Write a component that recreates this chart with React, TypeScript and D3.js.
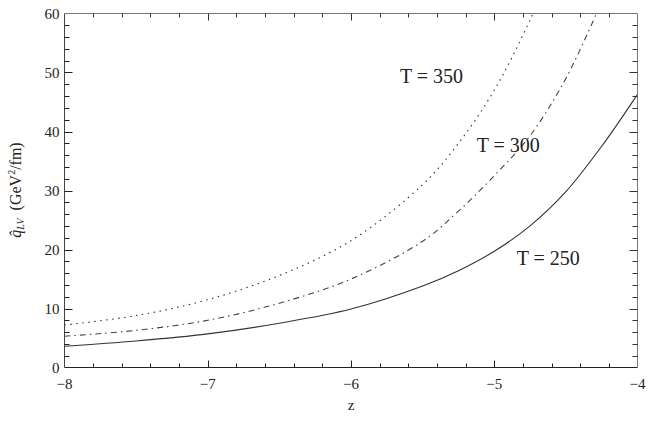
import React, { useEffect, useRef } from "react";
import * as d3 from "d3";

// z grid used for every curve
const zValues = [-8, -7.5, -7, -6.5, -6, -5.5, -5.25, -5, -4.75, -4.5, -4.25, -4];

// q_LV for the three temperatures (NaN = beyond the frame)
const qT250 = [3.6, 4.5, 5.7, 7.5, 9.9, 13.8, 16.4, 19.7, 24.0, 29.8, 37.5, 46.3];
const qT300 = [5.3, 6.3, 8.0, 10.9, 15.0, 21.4, 26.5, 32.5, 39.3, 49.0, 62.0, NaN];
const qT350 = [7.2, 8.8, 11.5, 15.6, 21.5, 31.0, 38.0, 47.0, 58.9, 73.0, NaN, NaN];

const curveLabels = ["T = 250", "T = 300", "T = 350"];
const labelPos = [
  { z: -4.843, q: 17.4 },
  { z: -5.123, q: 36.6 },
  { z: -5.658, q: 48.2 },
];

const xTicks = [-8, -7, -6, -5, -4];
const yTicks = [0, 10, 20, 30, 40, 50, 60];

const App = () => {
  const svgRef = useRef<SVGSVGElement | null>(null);

  useEffect(() => {
    const width = 654;
    const height = 424;
    const left = 64.5;
    const right = 637.5;
    const top = 13.5;
    const bottom = 367.5;
    const font = "'Liberation Serif', 'Times New Roman', serif";

    const svg = d3.select(svgRef.current);
    svg.selectAll("*").remove();
    svg.attr("width", width).attr("height", height);

    const x = d3.scaleLinear().domain([-8, -4]).range([left, right]);
    const y = d3.scaleLinear().domain([0, 60]).range([bottom, top]);

    svg
      .append("defs")
      .append("clipPath")
      .attr("id", "plot-clip")
      .append("rect")
      .attr("x", left)
      .attr("y", top)
      .attr("width", right - left)
      .attr("height", bottom - top);

    // --- curves ---
    const series = [
      { values: qT250, dash: null, color: "#333" },
      { values: qT300, dash: "6,4,1.5,4", color: "#444" },
      { values: qT350, dash: "1.5,4.5", color: "#333" },
    ];

    const line = d3
      .line<[number, number]>()
      .defined((d) => !isNaN(d[1]))
      .x((d) => x(d[0]))
      .y((d) => y(d[1]))
      .curve(d3.curveCatmullRom.alpha(0.5));

    const curves = svg.append("g").attr("clip-path", "url(#plot-clip)");
    series.forEach((s) => {
      const pts = zValues.map((z, i) => [z, s.values[i]] as [number, number]);
      curves
        .append("path")
        .attr("d", line(pts))
        .attr("fill", "none")
        .attr("stroke", s.color)
        .attr("stroke-width", 1.1)
        .attr("stroke-dasharray", s.dash);
    });

    // --- frame ---
    const frame = svg.append("g");
    frame.append("line").attr("x1", left).attr("x2", right).attr("y1", bottom).attr("y2", bottom).attr("stroke", "#222");
    frame.append("line").attr("x1", left).attr("x2", left).attr("y1", top).attr("y2", bottom).attr("stroke", "#444");
    frame.append("line").attr("x1", left).attr("x2", right).attr("y1", top).attr("y2", top).attr("stroke", "#777");
    frame.append("line").attr("x1", right).attr("x2", right).attr("y1", top).attr("y2", bottom).attr("stroke", "#777");

    // --- ticks (inward, mirrored) ---
    const xMinor = d3.range(-8, -3.99, 0.2);
    xMinor.forEach((v) => {
      const major = xTicks.some((t) => Math.abs(t - v) < 1e-6);
      if (Math.abs(v + 8) < 1e-6 || Math.abs(v + 4) < 1e-6) return;
      const len = major ? 7 : 4;
      const px = Math.round(x(v)) + 0.5;
      frame.append("line").attr("x1", px).attr("x2", px).attr("y1", bottom).attr("y2", bottom - len).attr("stroke", "#222");
      frame.append("line").attr("x1", px).attr("x2", px).attr("y1", top).attr("y2", top + len).attr("stroke", "#333");
    });
    const yMinor = d3.range(0, 60.01, 2);
    yMinor.forEach((v) => {
      const major = yTicks.includes(Math.round(v)) && Math.round(v) % 10 === 0;
      if (v === 0 || v === 60) return;
      const len = major ? 8 : 5;
      const py = Math.round(y(v)) + 0.5;
      frame.append("line").attr("x1", left).attr("x2", left + len).attr("y1", py).attr("y2", py).attr("stroke", "#222");
      frame.append("line").attr("x1", right).attr("x2", right - len).attr("y1", py).attr("y2", py).attr("stroke", "#333");
    });

    // --- tick labels ---
    svg
      .append("g")
      .selectAll("text")
      .data(xTicks)
      .join("text")
      .attr("x", (d) => x(d))
      .attr("y", bottom + 21)
      .attr("text-anchor", "middle")
      .style("font-family", font)
      .style("font-size", "15px")
      .style("fill", "#222")
      .text((d) => `\u2212${Math.abs(d)}`);

    svg
      .append("g")
      .selectAll("text")
      .data(yTicks)
      .join("text")
      .attr("x", left - 5)
      .attr("y", (d) => y(d) + 5)
      .attr("text-anchor", "end")
      .style("font-family", font)
      .style("font-size", "15px")
      .style("fill", "#222")
      .text((d) => d);

    // --- axis titles ---
    svg
      .append("text")
      .attr("x", (left + right) / 2)
      .attr("y", 410)
      .attr("text-anchor", "middle")
      .style("font-family", font)
      .style("font-size", "15px")
      .style("fill", "#222")
      .text("z");

    const yTitle = svg
      .append("text")
      .attr("transform", `translate(21, 190) rotate(-90)`)
      .attr("text-anchor", "middle")
      .style("font-family", font)
      .style("font-size", "16px")
      .style("fill", "#222");
    yTitle.append("tspan").style("font-style", "italic").text("q\u0302");
    yTitle.append("tspan").style("font-style", "italic").style("font-size", "10px").attr("dy", 3).text("LV");
    yTitle.append("tspan").attr("dy", -3).text("\u2002(GeV");
    yTitle.append("tspan").style("font-size", "10px").attr("dy", -6).text("2");
    yTitle.append("tspan").attr("dy", 6).text("/fm)");

    // --- curve labels ---
    svg
      .append("g")
      .selectAll("text")
      .data(curveLabels)
      .join("text")
      .attr("x", (d, i) => x(labelPos[i].z))
      .attr("y", (d, i) => y(labelPos[i].q))
      .style("font-family", font)
      .style("font-size", "20px")
      .style("fill", "#222")
      .text((d) => d);
  }, []);

  return (
    <svg
      ref={svgRef}
      style={{ position: "absolute", left: 0, top: 0, background: "#fff" }}
    ></svg>
  );
};

export default App;
